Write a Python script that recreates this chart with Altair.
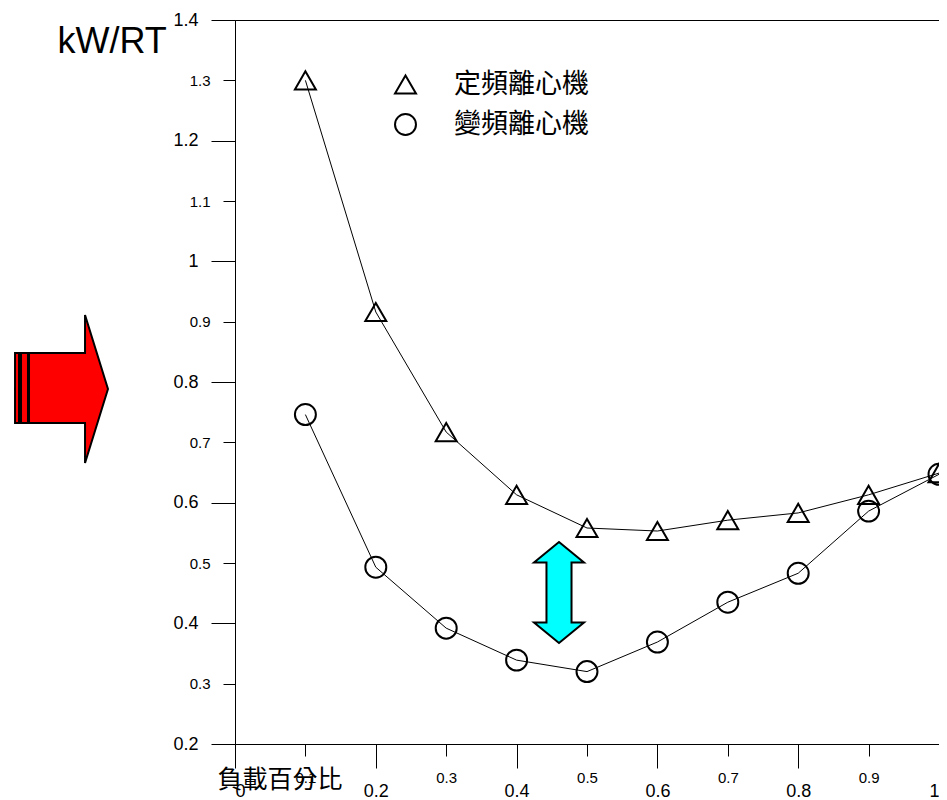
import altair as alt
import pandas as pd

# ---- data ----
load = [0.1, 0.2, 0.3, 0.4, 0.5, 0.6, 0.7, 0.8, 0.9, 1.0]
fixed_speed = [1.300, 0.916, 0.717, 0.613, 0.558, 0.553, 0.571, 0.583, 0.613, 0.649]
variable_speed = [0.746, 0.493, 0.392, 0.339, 0.320, 0.369, 0.435, 0.483, 0.586, 0.647]
series_names = ["定頻離心機", "變頻離心機"]
series_shapes = ["triangle-up", "circle"]
x_ticks = [0, 0.1, 0.2, 0.3, 0.4, 0.5, 0.6, 0.7, 0.8, 0.9, 1.0]
y_ticks = [0.2, 0.3, 0.4, 0.5, 0.6, 0.7, 0.8, 0.9, 1.0, 1.1, 1.2, 1.3, 1.4]
y_title = "kW/RT"
x_title = "負載百分比"

rows = []
for name, vals in zip(series_names, [fixed_speed, variable_speed]):
    for xv, yv in zip(load, vals):
        rows.append({"series": name, "load": xv, "kw": yv})
df = pd.DataFrame(rows)

even = "round(datum.value*10) % 2 === 0"
NUM_FONT = "Liberation Sans"
CJK_FONT = "Noto Sans CJK TC"

x_enc = alt.X(
    "load:Q",
    scale=alt.Scale(domain=[0, 1], nice=False, zero=False),
    axis=alt.Axis(
        values=x_ticks,
        format=".1~f",
        grid=False,
        domainColor="black",
        tickColor="black",
        tickSize={"condition": {"test": even, "value": 24}, "value": 12},
        labelFontSize={"condition": {"test": even, "value": 18}, "value": 15},
        labelPadding=14,
        labelFont=NUM_FONT,
        labelColor="black",
        title=x_title,
        titleFont=CJK_FONT,
        titleFontSize=25,
        titleFontWeight="normal",
        titleColor="black",
        titleAlign="left",
        titleBaseline="middle",
        titleAnchor="start",
        titleX=-18,
        titleY=35,
    ),
)

y_enc = alt.Y(
    "kw:Q",
    scale=alt.Scale(domain=[0.2, 1.4], nice=False, zero=False),
    axis=alt.Axis(
        values=y_ticks,
        format=".1~f",
        grid=False,
        domainColor="black",
        tickColor="black",
        tickSize={"condition": {"test": even, "value": 24}, "value": 12},
        labelFontSize={"condition": {"test": even, "value": 18}, "value": 15},
        labelPadding=13,
        labelFont=NUM_FONT,
        labelColor="black",
        title=y_title,
        titleFont=NUM_FONT,
        titleFontSize=36,
        titleFontWeight="normal",
        titleColor="black",
        titleAngle=0,
        titleAlign="left",
        titleBaseline="alphabetic",
        titleX=-178,
        titleY=32,
    ),
)

shape_enc = alt.Shape(
    "series:N",
    scale=alt.Scale(domain=series_names, range=series_shapes),
    sort=None,
    legend=alt.Legend(
        title=None,
        orient="none",
        legendX=157,
        legendY=51,
        padding=0,
        symbolSize=440,
        symbolStrokeColor="black",
        symbolStrokeWidth=2,
        symbolFillColor="transparent",
        labelFont=CJK_FONT,
        labelFontSize=27,
        labelColor="black",
        labelOffset=35,
        rowPadding=12,
    ),
)

lines = alt.Chart(df).mark_line(color="black", strokeWidth=1).encode(
    x=x_enc, y=y_enc, detail="series:N"
)
points = alt.Chart(df).mark_point(
    filled=False, color="black", strokeWidth=2, size=440, opacity=1
).encode(x=x_enc, y=y_enc, shape=shape_enc)

one = pd.DataFrame({"k": [0]})
red_arrow_path = (
    "M-0.628,-0.486L-0.574,-0.486L-0.574,0.459L-0.628,0.459Z"
    "M-0.547,-0.486L-0.453,-0.486L-0.453,0.459L-0.547,0.459Z"
    "M-0.439,-0.486L0.318,-0.486L0.318,-1L0.628,0L0.318,1L0.318,0.459L-0.439,0.459Z"
)
red_arrow = alt.Chart(one).mark_point(
    shape=red_arrow_path, filled=True, fill="#ff0000", stroke="black",
    strokeWidth=2, size=21904, opacity=1
).encode(x=alt.value(-173.5), y=alt.value(369))

cyan_arrow_path = (
    "M0,-1L0.495,-0.594L0.248,-0.594L0.248,0.594L0.495,0.594L0,1"
    "L-0.495,0.594L-0.248,0.594L-0.248,-0.594L-0.495,-0.594Z"
)
cyan_arrow = alt.Chart(one).mark_point(
    shape=cyan_arrow_path, filled=True, fill="#00ffff", stroke="black",
    strokeWidth=2, size=10201, opacity=1
).encode(x=alt.value(324), y=alt.value(572.5))

chart = (
    alt.layer(lines, points, red_arrow, cyan_arrow)
    .properties(
        width=704,
        height=724,
        autosize=alt.AutoSizeParams(type="none"),
        padding={"left": 227, "top": 12, "right": 0, "bottom": 56},
        background="white",
    )
    .configure_view(stroke="black", strokeWidth=1)
    .configure_axis(domainWidth=1, tickWidth=1)
)

chart.save("out.html", embed_options={"renderer": "svg", "actions": False})
